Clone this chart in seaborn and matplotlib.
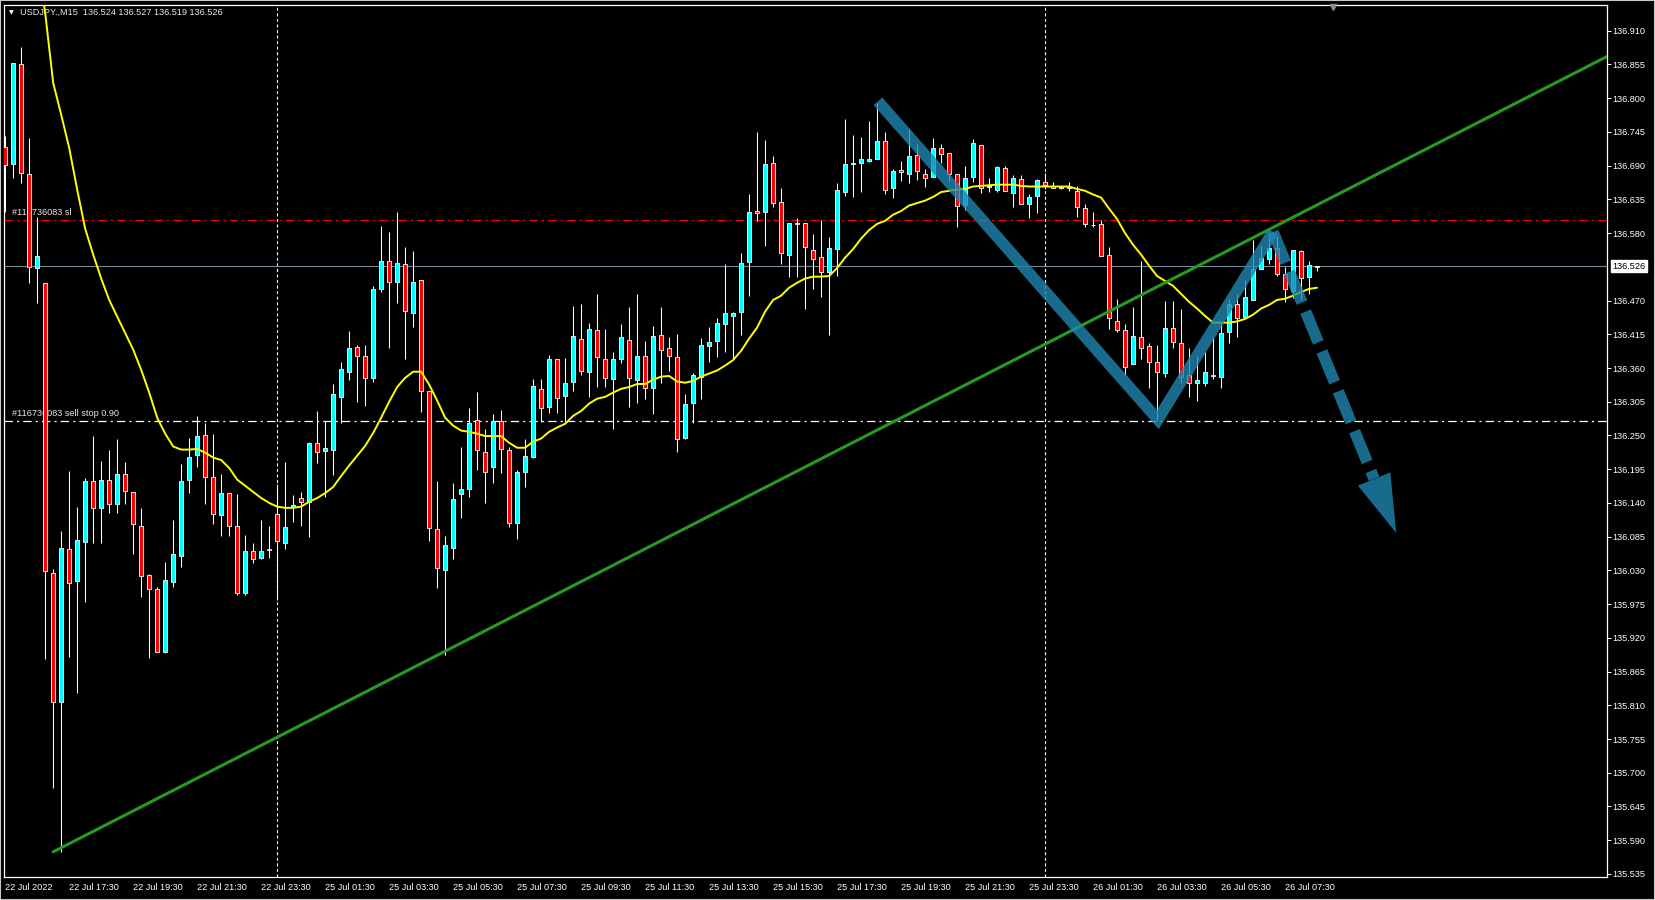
import numpy as np
import pandas as pd
import matplotlib
matplotlib.use("Agg")
import matplotlib.pyplot as plt
import matplotlib.transforms as mtransforms
from matplotlib.patches import Rectangle
import seaborn as sns

# ---------------- data (USDJPY., M15) ----------------
symbol_header = "USDJPY.,M15  136.524 136.527 136.519 136.526"
first_bar_time = "2022-07-22 15:30"
last_bar_time = "2022-07-26 08:30"

opens = [136.721, 136.693, 136.856, 136.677, 136.523, 136.499, 136.026, 135.816, 136.065, 136.013,
         136.077, 136.176, 136.132, 136.178, 136.139, 136.187, 136.158, 136.103, 136.023, 136.000,
         135.897, 136.011, 136.054, 136.178, 136.218, 136.251, 136.183, 136.121, 136.157, 136.103,
         135.993, 136.062, 136.050, 136.065, 136.122, 136.075, 136.134, 136.148, 136.142, 136.238,
         136.225, 136.227, 136.313, 136.354, 136.395, 136.380, 136.344, 136.489, 136.535, 136.501,
         136.530, 136.450, 136.504, 136.323, 136.098, 136.031, 136.067, 136.155, 136.163, 136.276,
         136.223, 136.199, 136.274, 136.227, 136.108, 136.191, 136.215, 136.326, 136.297, 136.375,
         136.315, 136.338, 136.408, 136.354, 136.422, 136.375, 136.342, 136.375, 136.406, 136.341,
         136.380, 136.328, 136.414, 136.393, 136.378, 136.246, 136.303, 136.346, 136.396, 136.404,
         136.432, 136.445, 136.452, 136.533, 136.616, 136.615, 136.695, 136.631, 136.545, 136.597,
         136.597, 136.553, 136.541, 136.517, 136.554, 136.647, 136.693, 136.695, 136.698, 136.701,
         136.731, 136.654, 136.683, 136.677, 136.708, 136.677, 136.672, 136.719, 136.711, 136.677,
         136.626, 136.672, 136.724, 136.656, 136.651, 136.687, 136.646, 136.669, 136.628, 136.641,
         136.664, 136.657, 136.654, 136.654, 136.649, 136.621, 136.594, 136.595, 136.545, 136.437,
         136.422, 136.367, 136.411, 136.396, 136.370, 136.352, 136.426, 136.401, 136.349, 136.336,
         136.336, 136.348, 136.346, 136.419, 136.465, 136.444, 136.471, 136.522, 136.538, 136.556,
         136.514, 136.486, 136.551, 136.509, 136.524]
highs = [136.739, 136.858, 136.884, 136.735, 136.607, 136.499, 136.033, 136.094, 136.192, 136.134,
         136.181, 136.249, 136.209, 136.227, 136.245, 136.207, 136.158, 136.132, 136.024, 136.003,
         136.044, 136.112, 136.204, 136.246, 136.282, 136.271, 136.253, 136.187, 136.157, 136.155,
         136.088, 136.075, 136.112, 136.103, 136.171, 136.207, 136.153, 136.158, 136.240, 136.290,
         136.274, 136.334, 136.370, 136.421, 136.398, 136.398, 136.494, 136.592, 136.582, 136.615,
         136.558, 136.551, 136.504, 136.323, 136.176, 136.086, 136.173, 136.232, 136.295, 136.321,
         136.261, 136.285, 136.292, 136.232, 136.194, 136.245, 136.342, 136.342, 136.382, 136.375,
         136.377, 136.461, 136.465, 136.434, 136.481, 136.424, 136.386, 136.431, 136.460, 136.481,
         136.404, 136.429, 136.460, 136.411, 136.416, 136.318, 136.352, 136.409, 136.427, 136.442,
         136.530, 136.452, 136.548, 136.644, 136.745, 136.732, 136.706, 136.654, 136.597, 136.605,
         136.597, 136.579, 136.602, 136.574, 136.662, 136.766, 136.740, 136.737, 136.763, 136.793,
         136.745, 136.685, 136.698, 136.750, 136.726, 136.685, 136.735, 136.726, 136.711, 136.677,
         136.690, 136.734, 136.724, 136.670, 136.690, 136.690, 136.674, 136.674, 136.643, 136.669,
         136.678, 136.664, 136.656, 136.664, 136.657, 136.628, 136.615, 136.602, 136.558, 136.473,
         136.431, 136.460, 136.535, 136.401, 136.398, 136.470, 136.470, 136.457, 136.393, 136.380,
         136.386, 136.411, 136.434, 136.473, 136.481, 136.504, 136.569, 136.561, 136.582, 136.576,
         136.525, 136.553, 136.553, 136.535, 136.527]
lows = [136.615, 136.670, 136.662, 136.499, 136.466, 135.886, 135.675, 135.571, 135.889, 135.830,
        135.979, 136.075, 136.075, 136.124, 136.124, 136.139, 136.057, 135.987, 135.887, 135.897,
        135.896, 136.003, 136.036, 136.156, 136.199, 136.139, 136.106, 136.086, 136.086, 135.990,
        135.990, 136.042, 136.049, 136.050, 135.982, 136.065, 136.109, 136.103, 136.085, 136.205,
        136.150, 136.186, 136.271, 136.341, 136.305, 136.298, 136.338, 136.484, 136.393, 136.466,
        136.375, 136.427, 136.289, 136.078, 136.002, 135.892, 136.049, 136.116, 136.150, 136.194,
        136.140, 136.173, 136.189, 136.101, 136.081, 136.166, 136.214, 136.272, 136.287, 136.287,
        136.272, 136.323, 136.349, 136.313, 136.329, 136.329, 136.261, 136.369, 136.297, 136.303,
        136.310, 136.285, 136.336, 136.355, 136.223, 136.244, 136.271, 136.310, 136.370, 136.378,
        136.386, 136.375, 136.414, 136.478, 136.600, 136.559, 136.623, 136.530, 136.509, 136.509,
        136.457, 136.489, 136.476, 136.414, 136.510, 136.641, 136.639, 136.647, 136.696, 136.701,
        136.644, 136.638, 136.665, 136.662, 136.667, 136.656, 136.672, 136.695, 136.665, 136.590,
        136.618, 136.664, 136.646, 136.647, 136.647, 136.649, 136.623, 136.628, 136.605, 136.613,
        136.652, 136.653, 136.652, 136.649, 136.607, 136.590, 136.590, 136.543, 136.424, 136.419,
        136.349, 136.367, 136.375, 136.328, 136.276, 136.346, 136.393, 136.336, 136.313, 136.306,
        136.331, 136.342, 136.328, 136.401, 136.411, 136.444, 136.471, 136.522, 136.530, 136.510,
        136.468, 136.475, 136.473, 136.481, 136.519]
closes = [136.691, 136.858, 136.678, 136.525, 136.543, 136.029, 135.816, 136.067, 136.010, 136.080,
          136.176, 136.132, 136.178, 136.139, 136.187, 136.160, 136.106, 136.021, 136.000, 135.897,
          136.015, 136.057, 136.176, 136.215, 136.249, 136.183, 136.122, 136.157, 136.103, 135.993,
          136.062, 136.049, 136.062, 136.064, 136.078, 136.101, 136.137, 136.142, 136.238, 136.223,
          136.230, 136.318, 136.359, 136.393, 136.380, 136.344, 136.489, 136.535, 136.501, 136.532,
          136.453, 136.501, 136.323, 136.099, 136.034, 136.072, 136.147, 136.163, 136.271, 136.227,
          136.191, 136.274, 136.228, 136.108, 136.191, 136.217, 136.331, 136.295, 136.375, 136.311,
          136.336, 136.413, 136.355, 136.424, 136.378, 136.344, 136.375, 136.411, 136.344, 136.380,
          136.328, 136.413, 136.390, 136.380, 136.245, 136.302, 136.349, 136.398, 136.403, 136.434,
          136.450, 136.450, 136.532, 136.615, 136.613, 136.693, 136.629, 136.548, 136.597, 136.595,
          136.558, 136.538, 136.517, 136.556, 136.651, 136.693, 136.695, 136.701, 136.701, 136.731,
          136.651, 136.682, 136.680, 136.706, 136.682, 136.670, 136.719, 136.709, 136.677, 136.625,
          136.670, 136.727, 136.654, 136.656, 136.688, 136.649, 136.670, 136.628, 136.639, 136.667,
          136.659, 136.654, 136.654, 136.656, 136.623, 136.595, 136.593, 136.543, 136.442, 136.422,
          136.362, 136.413, 136.393, 136.370, 136.354, 136.426, 136.403, 136.346, 136.336, 136.341,
          136.354, 136.347, 136.417, 136.465, 136.442, 136.476, 136.522, 136.540, 136.556, 136.514,
          136.489, 136.553, 136.507, 136.528, 136.526]

# yellow moving average, first value belongs to bar number ma_first_bar
ma_first_bar = 4
ma_values = [137.026, 136.939, 136.825, 136.773, 136.719, 136.651, 136.587, 136.545, 136.506, 136.471,
             136.444, 136.417, 136.390, 136.357, 136.320, 136.279, 136.253, 136.232, 136.227, 136.227,
             136.228, 136.222, 136.214, 136.210, 136.197, 136.178, 136.168, 136.158, 136.148, 136.140,
             136.134, 136.132, 136.132, 136.134, 136.142, 136.148, 136.156, 136.166, 136.184, 136.201,
             136.217, 136.233, 136.254, 136.279, 136.305, 136.329, 136.344, 136.354, 136.354, 136.333,
             136.307, 136.279, 136.266, 136.258, 136.256, 136.253, 136.249, 136.249, 136.249, 136.238,
             136.230, 136.230, 136.240, 136.245, 136.256, 136.263, 136.269, 136.282, 136.290, 136.302,
             136.310, 136.313, 136.320, 136.326, 136.329, 136.334, 136.334, 136.341, 136.346, 136.347,
             136.338, 136.336, 136.339, 136.346, 136.351, 136.356, 136.364, 136.373, 136.388, 136.408,
             136.426, 136.452, 136.471, 136.478, 136.491, 136.499, 136.506, 136.509, 136.509, 136.510,
             136.523, 136.540, 136.554, 136.571, 136.585, 136.595, 136.600, 136.610, 136.616, 136.625,
             136.629, 136.633, 136.639, 136.647, 136.649, 136.651, 136.652, 136.656, 136.657, 136.658,
             136.659, 136.659, 136.659, 136.657, 136.656, 136.656, 136.656, 136.656, 136.656, 136.656,
             136.652, 136.649, 136.643, 136.638, 136.620, 136.603, 136.580, 136.561, 136.545, 136.527,
             136.510, 136.502, 136.494, 136.481, 136.468, 136.457, 136.445, 136.434, 136.434, 136.434,
             136.436, 136.440, 136.447, 136.457, 136.463, 136.471, 136.473, 136.478, 136.484, 136.489,
             136.491]

# green trend line (bar position, price)
trend_bars = [6.0, 200.25]
trend_prices = [135.571, 136.868]

# blue zig-zag drawing and projected arrow
zigzag_bars = [109.1, 144.1, 158.5]
zigzag_prices = [136.795, 136.276, 136.582]
arrow_tip_bar = 173.9
arrow_tip_price = 136.091

# order levels
sl_level = 136.602
sl_label = "#116736083 sl"
sellstop_level = 136.274
sellstop_label = "#116736083 sell stop 0.90"
bid_price = 136.526

ytick_labels = ["135.535", "135.590", "135.645", "135.700", "135.755", "135.810", "135.865",
                "135.920", "135.975", "136.030", "136.085", "136.140", "136.195", "136.250",
                "136.305", "136.360", "136.415", "136.470", "136.580", "136.635", "136.690",
                "136.745", "136.800", "136.855", "136.910"]

# ---------------- styling ----------------
sns.set_theme(style="dark")
plt.rcParams["font.family"] = ["Liberation Sans", "DejaVu Sans"]
plt.rcParams["lines.scale_dashes"] = False

W, H = 1655, 900
fig = plt.figure(figsize=(W / 100, H / 100), dpi=100, facecolor="black")
ax = fig.add_axes([4 / W, 23 / H, 1603 / W, 872 / H])
ax.set_facecolor("black")

o, h, l, c = map(np.asarray, (opens, highs, lows, closes))
n = len(o)
x = np.arange(n)

rng = pd.date_range(first_bar_time, last_bar_time, freq="15min")
times = rng[rng.dayofweek < 5]

# period separators (first bar of each new day)
day = times.normalize()
for i in range(1, n):
    if day[i] != day[i - 1]:
        ax.axvline(i, color="white", lw=0.8, ls=(0, (2.2, 1.8)), zorder=1)

# order lines
ax.axhline(sl_level, color="#FF0000", lw=0.9, ls=(0, (6, 3, 1.5, 3)), zorder=1.5)
ax.axhline(sellstop_level, color="white", lw=0.9, ls=(0, (6, 3, 1.5, 3)), zorder=1.5)
ax.axhline(bid_price, color="#778899", lw=0.8, zorder=1.5)

ax.text(0.875, sl_level + 0.004, sl_label, color="#e6e6e6", fontsize=6.6,
        ha="left", va="bottom", zorder=2)
ax.text(0.875, sellstop_level + 0.004, sellstop_label, color="#e6e6e6", fontsize=6.6,
        ha="left", va="bottom", zorder=2)

# candles
ax.vlines(x, l, h, color="white", lw=0.75, zorder=3)
body_bottom = np.minimum(o, c)
body_h = np.maximum(np.abs(c - o), 0.0006)
body_colors = np.where(c > o, "#00FFFF", np.where(c < o, "#FF0000", "#FFFFFF"))
ax.bar(x, body_h, bottom=body_bottom, width=0.45, color=body_colors,
       edgecolor="white", linewidth=0.6, zorder=4)

# moving average
ma_x = np.arange(ma_first_bar, ma_first_bar + len(ma_values))
sns.lineplot(x=ma_x, y=ma_values, ax=ax, color="#FFFF00", lw=1.4, zorder=5)

# trend line (ray to the right)
slope = (trend_prices[1] - trend_prices[0]) / (trend_bars[1] - trend_bars[0])
tx = np.array([trend_bars[0], trend_bars[1] + 20])
sns.lineplot(x=tx, y=trend_prices[0] + slope * (tx - trend_bars[0]), ax=ax,
             color="#259B22", lw=2.2, zorder=5.5)

# blue zigzag and arrow
blue = "#1f87b0"
ax.plot(zigzag_bars, zigzag_prices, color=blue, lw=8.3, alpha=0.8,
        solid_joinstyle="miter", solid_capstyle="butt", zorder=6)
frac = 0.82
base_bar = zigzag_bars[-1] + frac * (arrow_tip_bar - zigzag_bars[-1])
base_price = zigzag_prices[-1] + frac * (arrow_tip_price - zigzag_prices[-1])
ax.plot([zigzag_bars[-1], base_bar], [zigzag_prices[-1], base_price], color=blue, lw=8.3,
        alpha=0.8, ls=(0, (24, 7)), dash_capstyle="butt", zorder=6)
ax.annotate("", xy=(arrow_tip_bar, arrow_tip_price), xytext=(base_bar, base_price),
            arrowprops=dict(arrowstyle="-|>,head_length=3.0,head_width=0.9", mutation_scale=14,
                            color=blue, alpha=0.8, lw=0, shrinkA=0, shrinkB=0), zorder=6)

# header
ax.text(0.00998, 0.9915, symbol_header, transform=ax.transAxes, color="#e8e8e8",
        fontsize=6.6, ha="left", va="center", zorder=2)
ax.text(0.0045, 0.9915, "\u25BC", transform=ax.transAxes, color="white", fontsize=4.5,
        ha="center", va="center", family=["DejaVu Sans"], zorder=2)

# axes limits / ticks
ax.set_xlim(-0.15, 200.25)
ax.set_ylim(135.530, 136.952)
ax.set_xlabel("")
ax.set_ylabel("")
ax.grid(False)

ax.yaxis.tick_right()
ax.set_yticks([float(v) for v in ytick_labels])
ax.set_yticklabels(ytick_labels)

tick_idx = np.arange(0, n, 8)
xt_labels = [times[i].strftime("%d %b %Y") if i == 0 else times[i].strftime("%d %b %H:%M")
             for i in tick_idx]
ax.set_xticks(tick_idx)
ax.set_xticklabels(xt_labels)
for t in ax.get_xticklabels():
    t.set_ha("left")

ax.tick_params(axis="both", colors="white", labelcolor="white", labelsize=6.6,
               direction="out", length=3, width=0.7)
ax.tick_params(axis="y", pad=1.2, left=False, right=True)
ax.tick_params(axis="x", pad=1.5)
for s in ax.spines.values():
    s.set_color("white")
    s.set_linewidth(0.9)

# bid price label on the price scale
bt = mtransforms.blended_transform_factory(ax.transAxes, ax.transData)
ax.text(1.0035, bid_price, f"{bid_price:.3f}", transform=bt, ha="left", va="center",
        color="black", fontsize=6.6, zorder=10, clip_on=False,
        bbox=dict(boxstyle="square,pad=0.15", fc="white", ec="white"))

# chart shift marker
st = mtransforms.blended_transform_factory(ax.transData, ax.transAxes)
ax.plot([166], [0.9975], transform=st, marker="v", ms=5, color="#8c8c8c",
        clip_on=False, zorder=10)

# window border
fig.patches.append(Rectangle((0, 0), 1, 1, transform=fig.transFigure, fill=False,
                             edgecolor="#c8c8c8", lw=1.5))

fig.savefig("out.png", dpi=100, facecolor="black")
